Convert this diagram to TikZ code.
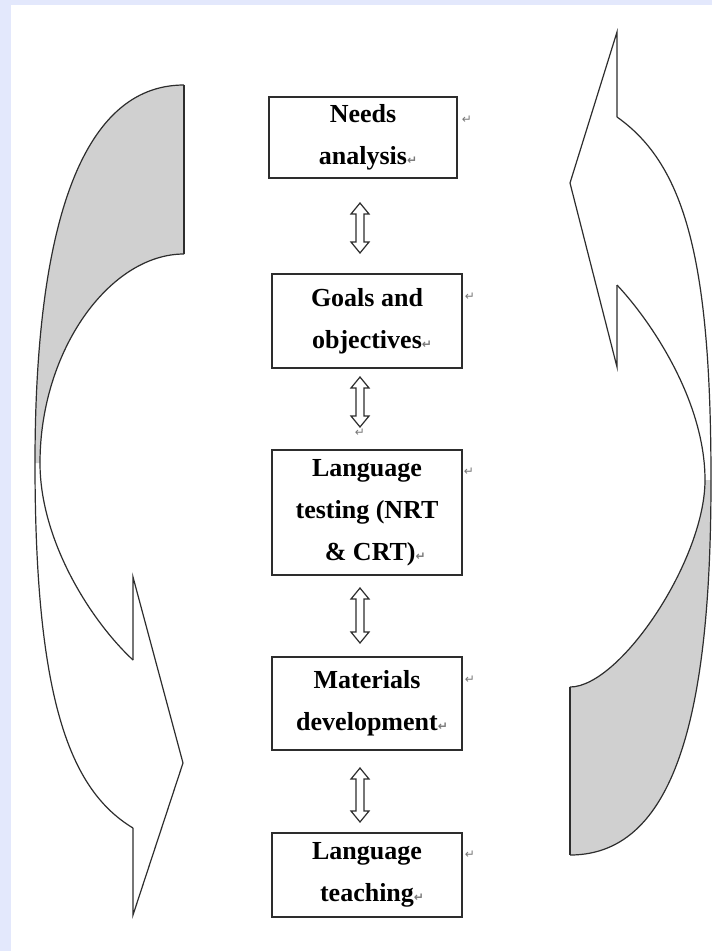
\documentclass[tikz,border=0pt]{standalone}
\usepackage{fontspec}
\setmainfont{Liberation Serif}
\newfontfamily\symfont{DejaVu Sans}
\usetikzlibrary{calc}
\definecolor{bgblue}{RGB}{227,232,252}
\definecolor{backgray}{RGB}{208,208,208}
\definecolor{edge}{RGB}{45,45,45}
\definecolor{markgray}{RGB}{120,120,120}
\newcommand\retmark{{\symfont\fontsize{12}{12}\selectfont\textcolor{markgray}{↵}}}
\newcommand\dblarr[2]{\draw[dblarrow] (#1) -- ($(#1)+(9,11)$) -- ($(#1)+(4,11)$) -- ($(#2)+(4,-11)$) -- ($(#2)+(9,-11)$) -- (#2) -- ($(#2)+(-9,-11)$) -- ($(#2)+(-4,-11)$) -- ($(#1)+(-4,11)$) -- ($(#1)+(-9,11)$) -- cycle;}
\begin{document}
\begin{tikzpicture}[x=1pt,y=-1pt,
  box/.style={draw=edge, line width=1.4pt, fill=white, minimum width=190pt, inner sep=0pt, align=center, font=\bfseries\fontsize{26}{42}\selectfont},
  curveline/.style={draw=edge, line width=1.2pt, line join=miter},
  dblarrow/.style={draw=edge, line width=1.2pt, fill=white, line join=miter},
  retnode/.style={inner sep=0pt}]
\fill[bgblue] (0,0) rectangle (712,951);
\fill[white] (11,5) rectangle (712,951);
\useasboundingbox (0,0) rectangle (712,951);

% left curved arrow
\coordinate (lt) at (184,85);
\coordinate (lb) at (184,254);
\coordinate (lo) at (35,463);
\coordinate (li) at (40,463);
\coordinate (lo2) at (133,828);
\coordinate (li2) at (133,660);
\fill[backgray] (lt) .. controls (80,85) and (35,230) .. (lo) -- (li) .. controls (40,350) and (110,254) .. (lb) -- cycle;
\draw[curveline] (lt) .. controls (80,85) and (35,230) .. (lo) .. controls (35,700) and (70,790) .. (lo2);
\draw[curveline] (lb) .. controls (110,254) and (40,350) .. (li) .. controls (40,540) and (90,620) .. (li2);
\draw[curveline] (lo2) -- (133,915) -- (183,763) -- (133,577) -- (li2);
\draw[curveline] (lt) -- (lb);

% right curved arrow
\coordinate (rt) at (570,687);
\coordinate (rb) at (570,855);
\coordinate (ro) at (711,480);
\coordinate (ri) at (705,480);
\coordinate (ro2) at (617,117);
\coordinate (ri2) at (617,285);
\fill[backgray] (rt) .. controls (620,687) and (705,560) .. (ri) -- (ro) .. controls (711,700) and (680,855) .. (rb) -- cycle;
\draw[curveline] (ro2) .. controls (685,165) and (711,260) .. (ro) .. controls (711,700) and (680,855) .. (rb);
\draw[curveline] (ri2) .. controls (650,320) and (705,400) .. (ri) .. controls (705,560) and (620,687) .. (rt);
\draw[curveline] (ro2) -- (617,32) -- (570,183) -- (617,367) -- (ri2);
\draw[curveline] (rt) -- (rb);

% boxes
\node[box, minimum width=188pt, minimum height=81pt] (n1) at (363,137.5) {Needs\\analysis\rlap{\retmark}};
\node[box, minimum height=94pt] (n2) at (367,321) {Goals and\\objectives\rlap{\retmark}};
\node[box, minimum height=125pt] (n3) at (367,512.5) {Language\\testing (NRT\\\ \& CRT)\rlap{\retmark}};
\node[box, minimum height=93pt] (n4) at (367,703.5) {Materials\\development\rlap{\retmark}};
\node[box, minimum height=84pt] (n5) at (367,875) {Language\\teaching\rlap{\retmark}};

\node[retnode] (m1) at (467,120) {\retmark};
\node[retnode] (m2) at (470,297) {\retmark};
\node[retnode] (m3) at (469,472) {\retmark};
\node[retnode] (m4) at (470,680) {\retmark};
\node[retnode] (m5) at (470,855) {\retmark};

% double arrows
\coordinate (a1t) at (360,203); \coordinate (a1b) at (360,253);
\coordinate (a2t) at (360,377); \coordinate (a2b) at (360,427);
\coordinate (a3t) at (360,588); \coordinate (a3b) at (360,643);
\coordinate (a4t) at (360,768); \coordinate (a4b) at (360,822);
\dblarr{a1t}{a1b}
\dblarr{a2t}{a2b}
\dblarr{a3t}{a3b}
\dblarr{a4t}{a4b}
\node[retnode] (m6) at (360,433) {\retmark};
\end{tikzpicture}
\end{document}
